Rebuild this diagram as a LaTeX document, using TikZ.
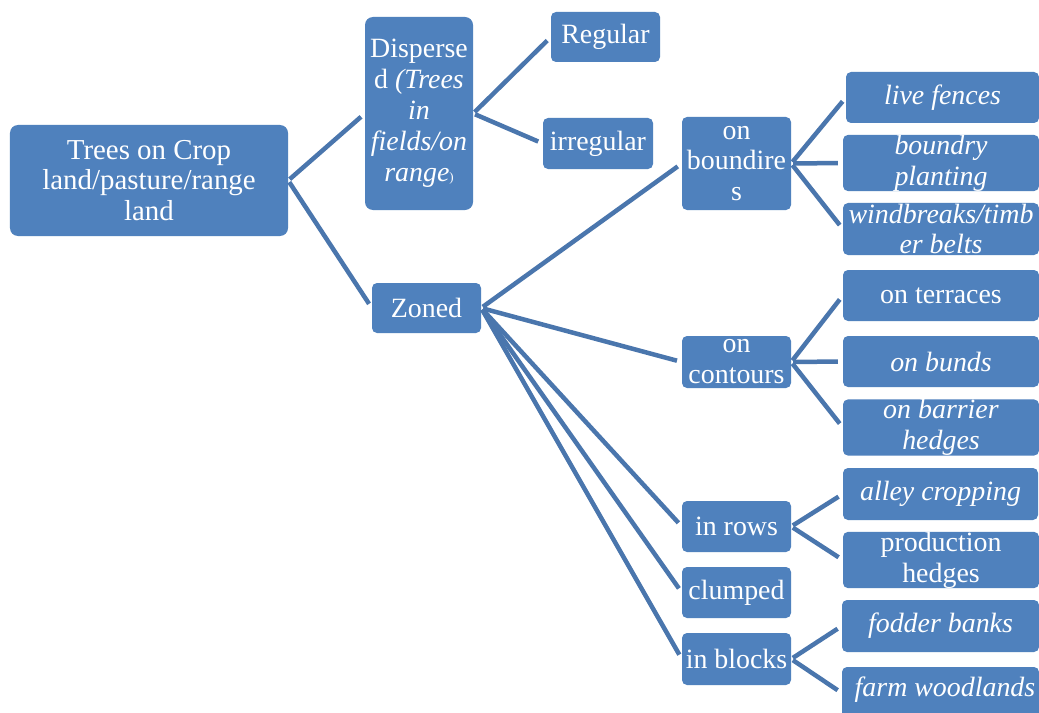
\documentclass[tikz,border=0pt]{standalone}
\usepackage{fontspec}
\setmainfont{Liberation Serif}
\definecolor{boxblue}{HTML}{4F81BD}
\definecolor{lineblue}{HTML}{4A76AD}
\begin{document}
\begin{tikzpicture}[x=1bp,y=-1bp,
  box/.style={fill=boxblue, text=white, rounded corners=5bp, inner sep=0pt, align=center,
    font=\fontsize{28}{31}\selectfont},
  sz/.style 2 args={minimum width=#1bp, minimum height=#2bp},
  conn/.style={draw=lineblue, line width=4.5bp, shorten <=2bp, shorten >=5bp}]
\useasboundingbox[fill=white] (0,0) rectangle (1039,713);
\begin{scope}
\clip (0,0) rectangle (1039,713);
% level 0
\node[box, sz={278}{111}, rounded corners=8bp, font=\fontsize{29}{30.5}\selectfont] (root) at (149,180.5) {Trees on Crop\\land/pasture/range\\land};
% level 1
\node[box, sz={108}{193}, rounded corners=8bp] (disp) at (419,113.5) {Disperse\\d \textit{(Trees}\\\textit{in}\\\textit{fields/on}\\\textit{range}{\fontsize{13}{13}\selectfont )}};
\node[box, sz={109}{50}] (zoned) at (426.5,308) {Zoned};
% level 2
\node[box, sz={109}{50}] (reg) at (605.5,37) {Regular};
\node[box, sz={110}{51}] (irr) at (598,143.5) {irregular};
\node[box, sz={109}{93}] (bound) at (736.5,163.5) {on\\boundire\\s};
\node[box, sz={109}{52}] (cont) at (736.5,362) {on\\contours};
\node[box, sz={109}{51}] (rows) at (736.5,526.5) {in rows};
\node[box, sz={109}{51}] (clump) at (736.5,592.5) {clumped};
\node[box, sz={109}{52}] (blocks) at (736.5,659) {in blocks};
% level 3
\node[box, sz={193}{51}] (live) at (942.5,97.5) {\textit{live fences}};
\node[box, sz={196}{52}] (bplant) at (941,163) {\textit{boundry}\\\textit{planting}};
\node[box, sz={196}{52}] (wind) at (941,229) {\textit{windbreaks/timb}\\\textit{er belts}};
\node[box, sz={196}{51}] (terr) at (941,295.5) {on terraces};
\node[box, sz={196}{51}] (bunds) at (941,361.5) {\textit{on bunds}};
\node[box, sz={196}{51}] (barrier) at (941,427.5) {\textit{on barrier}\\\textit{hedges}};
\node[box, sz={195}{52}] (alley) at (940.5,494) {\textit{alley cropping}};
\node[box, sz={196}{52}] (prod) at (941,560) {production\\hedges};
\node[box, sz={197}{52}] (fodder) at (940.5,626) {\textit{fodder banks}};
\node[box, sz={197}{52}] (farm) at (940.5,693) {};
\node[text=white, font=\fontsize{28}{31}\selectfont\itshape, inner sep=0pt] (farmtxt) at (945,690) {farm woodlands};
% connectors
\draw[conn] (root.east) -- (disp.west);
\draw[conn] (root.east) -- (zoned.west);
\draw[conn] (disp.east) -- (reg.west);
\draw[conn] (disp.east) -- (irr.west);
\draw[conn] (zoned.east) -- (bound.west);
\draw[conn] (zoned.east) -- (cont.west);
\draw[conn] (zoned.east) -- (rows.west);
\draw[conn] (zoned.east) -- (clump.west);
\draw[conn] (zoned.east) -- (blocks.west);
\draw[conn] (bound.east) -- (live.west);
\draw[conn] (bound.east) -- (bplant.west);
\draw[conn] (bound.east) -- (wind.west);
\draw[conn] (cont.east) -- (terr.west);
\draw[conn] (cont.east) -- (bunds.west);
\draw[conn] (cont.east) -- (barrier.west);
\draw[conn] (rows.east) -- (alley.west);
\draw[conn] (rows.east) -- (prod.west);
\draw[conn] (blocks.east) -- (fodder.west);
\draw[conn] (blocks.east) -- (farm.west);
\end{scope}
\end{tikzpicture}
\end{document}
